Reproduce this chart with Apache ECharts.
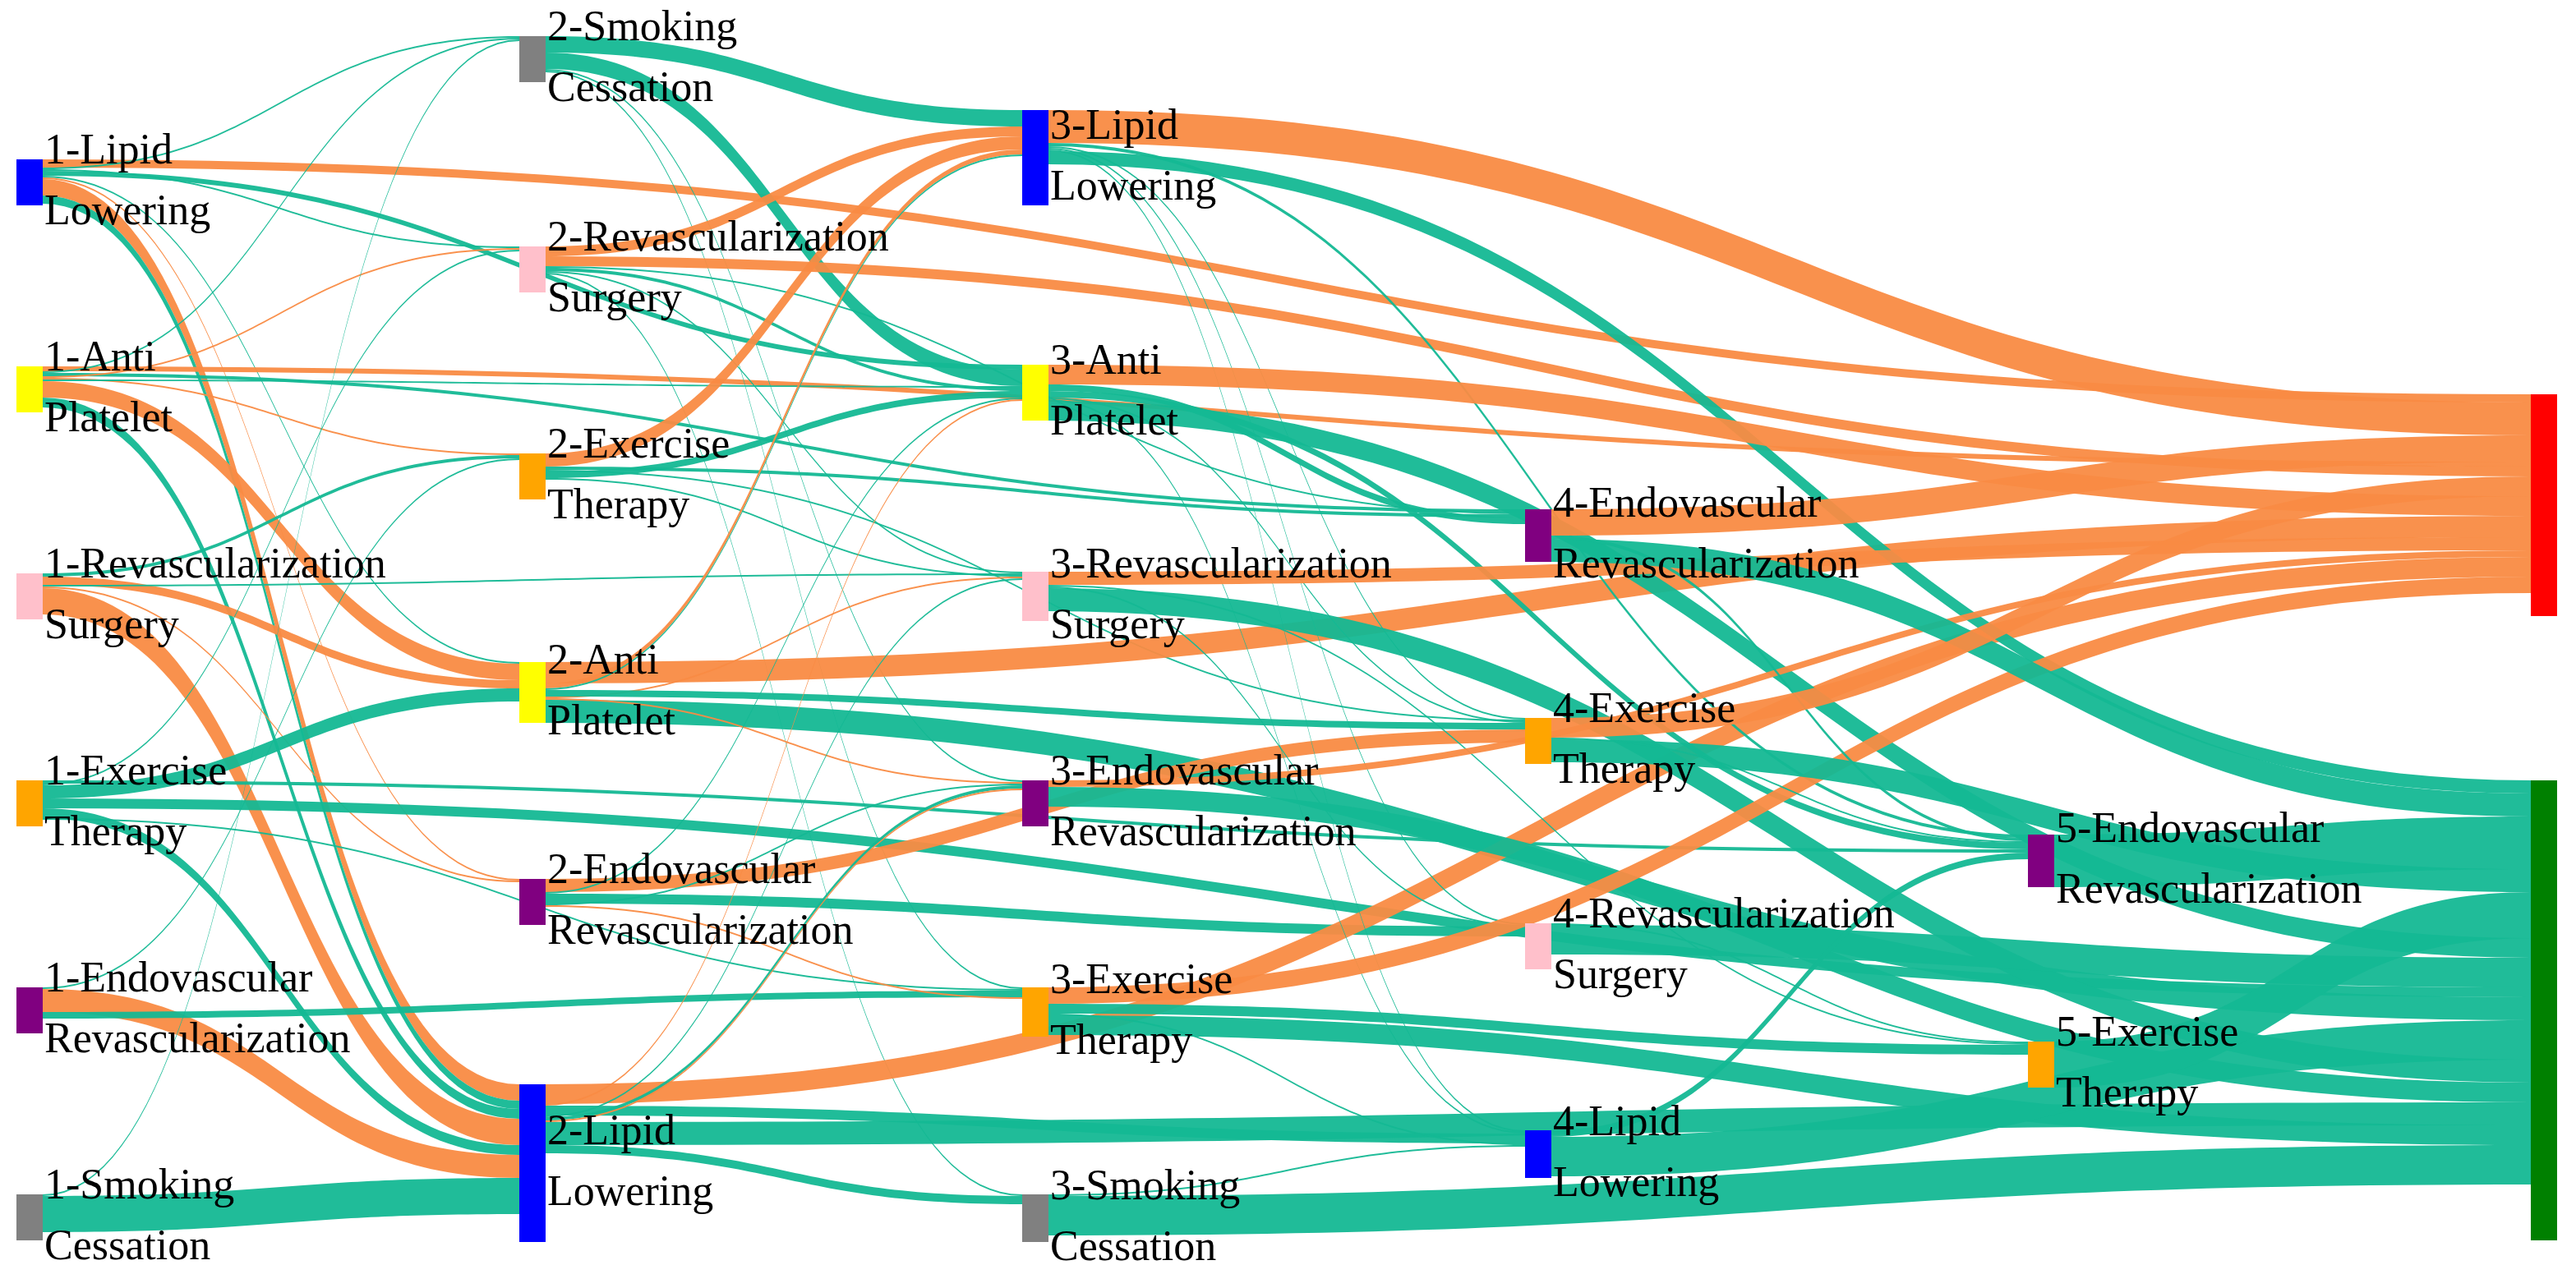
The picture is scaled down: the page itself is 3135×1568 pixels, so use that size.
<!DOCTYPE html>
<html><head><meta charset="utf-8">
<script src="https://cdn.jsdelivr.net/npm/echarts@6/dist/echarts.min.js"></script>
<style>html,body{margin:0;padding:0;background:#fff}#c{width:3135px;height:1568px}</style>
</head><body><div id="c"></div>
<script>
const nodeNames = ['L1','A1','R1','E1','V1','S1','S2','R2','E2','A2','V2','L2','L3','A3','R3','V3','E3','S3','V4','E4','R4','L4','V5','E5','RED','GREEN'];
const nodeLabels = ['1-Lipid\nLowering','1-Anti\nPlatelet','1-Revascularization\nSurgery','1-Exercise\nTherapy','1-Endovascular\nRevascularization','1-Smoking\nCessation',
 '2-Smoking\nCessation','2-Revascularization\nSurgery','2-Exercise\nTherapy','2-Anti\nPlatelet','2-Endovascular\nRevascularization','2-Lipid\nLowering',
 '3-Lipid\nLowering','3-Anti\nPlatelet','3-Revascularization\nSurgery','3-Endovascular\nRevascularization','3-Exercise\nTherapy','3-Smoking\nCessation',
 '4-Endovascular\nRevascularization','4-Exercise\nTherapy','4-Revascularization\nSurgery','4-Lipid\nLowering',
 '5-Endovascular\nRevascularization','5-Exercise\nTherapy','',''];
const nodeColors = ['#0000ff','#ffff00','#ffc0cb','#ffa500','#800080','#808080',
 '#808080','#ffc0cb','#ffa500','#ffff00','#800080','#0000ff',
 '#0000ff','#ffff00','#ffc0cb','#800080','#ffa500','#808080',
 '#800080','#ffa500','#ffc0cb','#0000ff','#800080','#ffa500','#ff0000','#008000'];
const nodeTops = [97,223,349,475,601,727, 22,150,276,403,535,660, 67,222,348,475,601,727, 310,437,562,688, 508,634, 240,475];
const nodeSizes = [28,28,28,28,28,28, 28,28,28,34,28,96, 58,30,30,28,30,29, 29,28,28,29, 28,28, 135,280];
// links: [source, target, value, outcome] O = orange, G = green
const links = [
 ['L1','L2',10,'O'],['L1','L2',5,'G'],['L1','RED',5,'O'],['L1','A3',3,'G'],['L1','S2',1,'G'],['L1','R2',1,'G'],['L1','A2',1,'G'],['L1','V2',1,'O'],
 ['A1','A2',10,'O'],['A1','L2',6,'G'],['A1','RED',3,'O'],['A1','E2',1,'O'],['A1','S2',1,'G'],['A1','V4',2,'G'],['A1','A3',1,'G'],['A1','R2',1,'O'],
 ['R1','L2',16,'O'],['R1','A2',5,'O'],['R1','R3',1,'G'],['R1','V2',1,'O'],['R1','E2',2,'G'],
 ['E1','A2',8,'G'],['E1','L2',6,'G'],['E1','V5',2,'G'],['E1','R2',1,'G'],['E1','E3',1,'G'],['E1','GREEN',6,'G'],
 ['V1','L2',14,'O'],['V1','E3',4,'G'],['V1','E2',1,'G'],
 ['S1','L2',22,'G'],['S1','S2',1,'G'],
 ['S2','L3',10,'G'],['S2','A3',10,'G'],['S2','E3',1,'G'],['S2','V3',1,'G'],
 ['R2','L3',6,'O'],['R2','RED',6,'O'],['R2','A3',2,'G'],['R2','R3',1,'G'],['R2','V4',1,'G'],['R2','S3',1,'G'],
 ['E2','L3',8,'O'],['E2','A3',4,'G'],['E2','V4',2,'G'],['E2','R3',1,'G'],['E2','E4',1,'G'],
 ['A2','RED',13,'O'],['A2','L3',3,'O'],['A2','R3',1,'O'],['A2','E4',4,'G'],['A2','GREEN',14,'G'],['A2','V3',1,'O'],['A2','L3',1,'G'],
 ['V2','E4',8,'O'],['V2','R4',6,'G'],['V2','V3',1,'G'],['V2','A3',1,'G'],['V2','E3',1,'O'],
 ['L2','RED',12,'O'],['L2','L4',6,'G'],['L2','S3',5,'G'],['L2','V3',2,'G'],['L2','R3',1,'G'],['L2','V3',1,'O'],['L2','A3',1,'O'],['L2','GREEN',14,'G'],
 ['L3','RED',20,'O'],['L3','GREEN',8,'G'],['L3','V5',2,'G'],['L3','R4',1,'G'],['L3','L4',1,'G'],['L3','E4',1,'G'],
 ['A3','RED',12,'O'],['A3','V4',4,'G'],['A3','V5',4,'G'],['A3','GREEN',12,'G'],['A3','E4',1,'G'],['A3','L4',1,'G'],
 ['R3','RED',8,'O'],['R3','GREEN',14,'G'],['R3','R4',1,'G'],['R3','E5',1,'G'],
 ['V3','RED',4,'O'],['V3','GREEN',12,'G'],
 ['E3','RED',10,'O'],['E3','E5',6,'G'],['E3','GREEN',12,'G'],['E3','L4',1,'G'],
 ['S3','GREEN',24,'G'],['S3','L4',1,'G'],
 ['V4','RED',16,'O'],['V4','GREEN',14,'G'],['V4','V5',2,'G'],
 ['E4','RED',12,'O'],['E4','GREEN',14,'G'],['E4','V5',1,'G'],
 ['R4','GREEN',18,'G'],['R4','E5',1,'G'],
 ['L4','GREEN',24,'G'],['L4','V5',4,'G'],
 ['V5','GREEN',32,'G'],
 ['E5','GREEN',28,'G']
];
const ORANGE = '#f98b43', GREEN = '#14b894';
const H = 830;
const data = nodeNames.map((n, i) => ({
  name: n, value: nodeSizes[i], localY: nodeTops[i] * 2 / H,
  itemStyle: { color: nodeColors[i], borderWidth: 0 },
  label: { show: nodeLabels[i] !== '', formatter: nodeLabels[i] || ' ' }
}));
const linkData = links.map(l => ({
  source: l[0], target: l[1], value: l[2],
  lineStyle: { color: l[3] === 'O' ? ORANGE : GREEN, opacity: 0.95 }
}));
const chart = echarts.init(document.getElementById('c'));
chart.setOption({
  backgroundColor: '#fff',
  animation: false,
  series: [{
    type: 'sankey',
    left: 20, right: 23, top: 0, height: H,
    nodeWidth: 32, nodeGap: 0, layoutIterations: 0, draggable: false,
    data: data, links: linkData,
    lineStyle: { curveness: 0.5 },
    emphasis: { disabled: true },
    label: { position: 'right', distance: 2, color: '#000', fontFamily: '"Liberation Serif", "Times New Roman", "DejaVu Serif", serif', fontSize: 52, lineHeight: 74 }
  }]
});
</script></body></html>
